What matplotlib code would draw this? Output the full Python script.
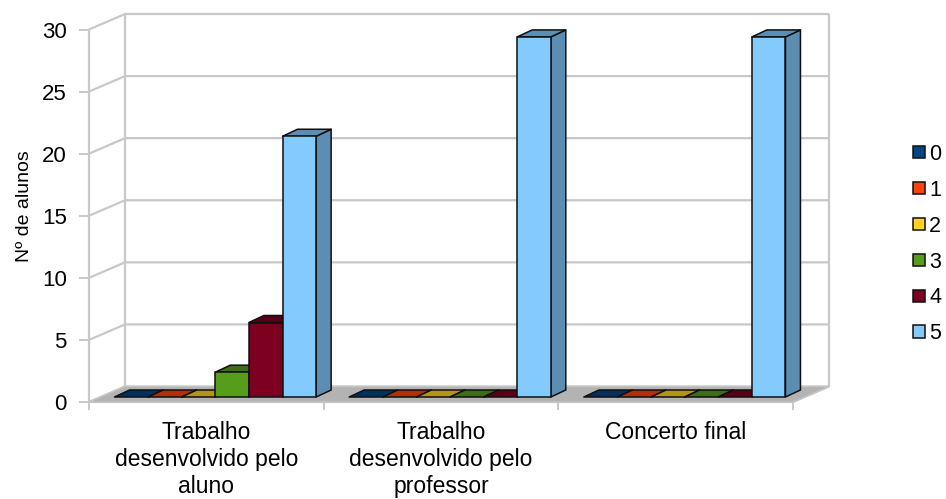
import matplotlib
matplotlib.use("Agg")
import matplotlib.pyplot as plt
from matplotlib.patches import Polygon, Patch
from matplotlib.colors import to_rgb

categories = ["Trabalho\ndesenvolvido pelo\naluno",
              "Trabalho\ndesenvolvido pelo\nprofessor",
              "Concerto final"]
series_names = ["0", "1", "2", "3", "4", "5"]
series_values = [
    [0, 0, 0],
    [0, 0, 0],
    [0, 0, 0],
    [2, 0, 0],
    [6, 0, 0],
    [21, 29, 29],
]
series_colors = ["#004586", "#ff420e", "#ffd320", "#579d1c", "#7e0021", "#83caff"]
y_ticks = [0, 5, 10, 15, 20, 25, 30]

plt.rcParams["font.family"] = ["Liberation Sans", "DejaVu Sans"]

W, H = 946, 499
AX_H = 372.5
fig = plt.figure(figsize=(W / 100, H / 100), dpi=100)
ax = fig.add_axes([89 / W, (H - 402) / H, 704 / W, AX_H / H])
ax.set_xlim(0, 3)
ax.set_ylim(0, 30)
for s in ax.spines.values():
    s.set_visible(False)

# Oblique projection: one depth unit shifts a point right and up in data units.
XU = 704 / 3
YU = AX_H / 30
WALL_DX, WALL_DY = 36 / XU, 15.5 / YU
BAR_DX0, BAR_DY0 = 9 / XU, 5 / YU
BAR_DX, BAR_DY = 15 / XU, 7 / YU
BAR_W = 33.6 / XU


def poly(pts, **kw):
    ax.add_patch(Polygon(pts, closed=True, clip_on=False, **kw))


grid_c = "#c8c8c8"
grid_kw = dict(color=grid_c, lw=1.6, clip_on=False, zorder=1, solid_capstyle="butt")

# Floor
poly([(0, 0), (WALL_DX, WALL_DY), (3 + WALL_DX, WALL_DY), (3, 0)],
     facecolor="#b3b3b3", edgecolor="#c4c4c4", lw=1.0, zorder=1.5)

# Side and back walls with their gridlines
for t in y_ticks:
    ax.plot([0, WALL_DX, 3 + WALL_DX], [t, t + WALL_DY, t + WALL_DY], **grid_kw)
ax.plot([0, 0], [0, 30], **grid_kw)
ax.plot([WALL_DX, WALL_DX], [WALL_DY, 30 + WALL_DY], **grid_kw)
ax.plot([3 + WALL_DX, 3 + WALL_DX], [WALL_DY, 30 + WALL_DY], **grid_kw)
ax.plot([0, 3], [0, 0], **grid_kw)
ax.plot([3, 3 + WALL_DX], [0, WALL_DY], **grid_kw)

# Bars, drawn left to right so each one overlaps its left neighbour
edge = dict(edgecolor="#101010", lw=1.1, joinstyle="round")
n = len(series_values)
group_w = n * BAR_W
for g in range(len(categories)):
    left = g + 0.5 - group_w / 2 + BAR_DX0
    for i in range(n):
        v = series_values[i][g]
        c = series_colors[i]
        dark = tuple(0.7 * ch for ch in to_rgb(c))
        x0 = left + i * BAR_W
        x1 = x0 + BAR_W
        y0 = BAR_DY0
        y1 = y0 + v
        z = 3 + g * 10 + i
        poly([(x1, y0), (x1 + BAR_DX, y0 + BAR_DY), (x1 + BAR_DX, y1 + BAR_DY), (x1, y1)],
             facecolor=dark, zorder=z, **edge)
        poly([(x0, y1), (x0 + BAR_DX, y1 + BAR_DY), (x1 + BAR_DX, y1 + BAR_DY), (x1, y1)],
             facecolor=dark, zorder=z, **edge)
        if v > 0:
            poly([(x0, y0), (x1, y0), (x1, y1), (x0, y1)],
                 facecolor=c, zorder=z, **edge)

# Axis ticks and labels
ax.set_yticks(y_ticks)
ax.set_xticks([0, 1, 2, 3])
ax.set_xticklabels([])
ax.set_xticks([0.5, 1.5, 2.5], minor=True)
ax.set_xticklabels(categories, minor=True, fontsize=16.5, linespacing=1.22, va="top")
ax.tick_params(axis="x", which="major", length=6, width=1.4, color=grid_c)
ax.tick_params(axis="x", which="minor", length=0, pad=14)
ax.tick_params(axis="y", length=7, width=1.4, color=grid_c, labelsize=16, pad=9)
ax.set_ylabel("Nº de alunos", fontsize=14)
ax.yaxis.set_label_coords((33 - 89) / 704, (402 - 206) / AX_H)

# Legend
handles = [Patch(facecolor=c, edgecolor="#101010", lw=1.1) for c in series_colors]
leg = ax.legend(handles, series_names, loc="upper left", frameon=False,
                bbox_to_anchor=(913 / W, (H - 144) / H), bbox_transform=fig.transFigure,
                fontsize=15.5, borderpad=0, borderaxespad=0, handlelength=0.56,
                handleheight=0.5, handletextpad=0.2, labelspacing=0.69)

fig.savefig("out.png", dpi=100)
